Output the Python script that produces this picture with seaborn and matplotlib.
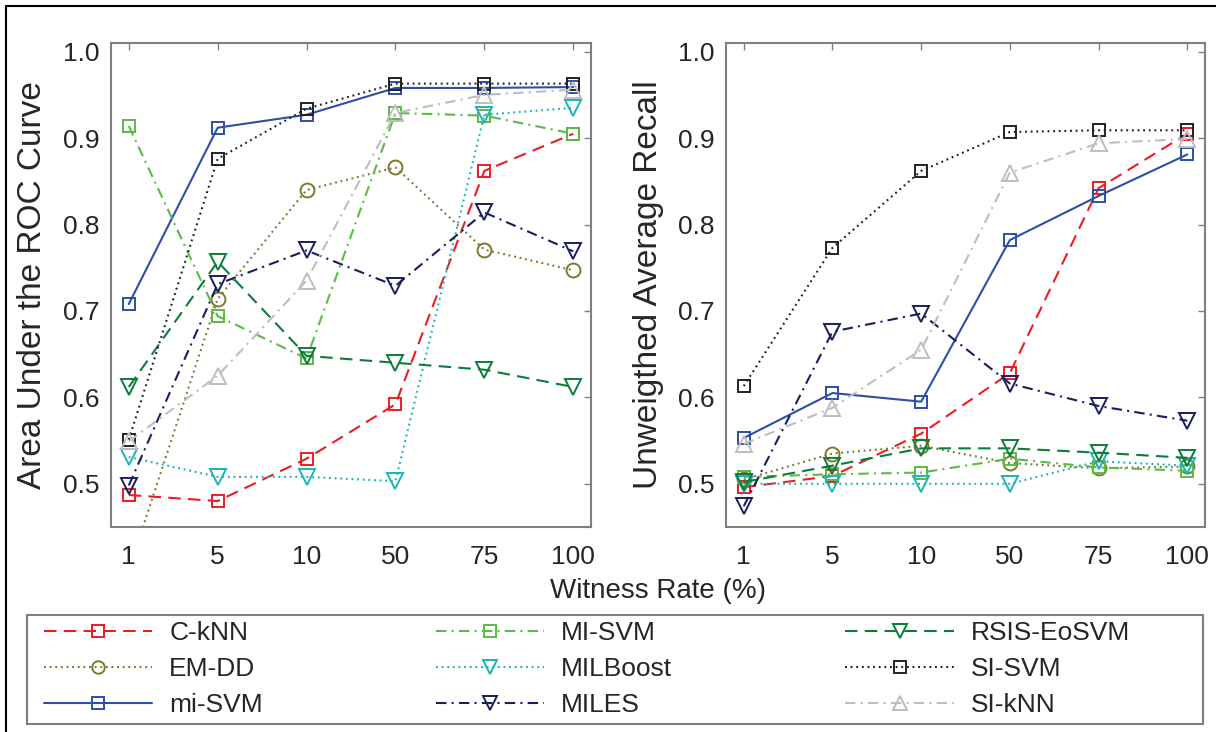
import numpy as np
import pandas as pd
import matplotlib
matplotlib.use("Agg")
import matplotlib.pyplot as plt
from matplotlib.lines import Line2D
from matplotlib.patches import Rectangle
import seaborn as sns

# Witness rate categories on the shared x axis
witness_rates = ["1", "5", "10", "50", "75", "100"]
methods = ["C-kNN", "EM-DD", "mi-SVM", "MI-SVM", "MILBoost", "MILES",
           "RSIS-EoSVM", "SI-SVM", "SI-kNN"]

# Area under the ROC curve
auc_cknn = [0.487, 0.480, 0.529, 0.592, 0.862, 0.905]
auc_emdd = [0.400, 0.714, 0.840, 0.866, 0.771, 0.747]
auc_mi_svm = [0.708, 0.912, 0.927, 0.958, 0.958, 0.959]
auc_MI_SVM = [0.914, 0.694, 0.645, 0.929, 0.926, 0.905]
auc_milboost = [0.531, 0.508, 0.508, 0.503, 0.927, 0.935]
auc_miles = [0.498, 0.731, 0.770, 0.729, 0.814, 0.769]
auc_rsis = [0.612, 0.757, 0.648, 0.640, 0.632, 0.612]
auc_si_svm = [0.551, 0.876, 0.934, 0.963, 0.963, 0.963]
auc_si_knn = [0.549, 0.625, 0.735, 0.929, 0.950, 0.956]

# Unweighted average recall
uar_cknn = [0.496, 0.509, 0.558, 0.628, 0.842, 0.905]
uar_emdd = [0.505, 0.535, 0.544, 0.524, 0.518, 0.520]
uar_mi_svm = [0.553, 0.605, 0.595, 0.782, 0.833, 0.881]
uar_MI_SVM = [0.508, 0.511, 0.513, 0.529, 0.519, 0.515]
uar_milboost = [0.500, 0.500, 0.500, 0.500, 0.526, 0.521]
uar_miles = [0.474, 0.676, 0.697, 0.616, 0.590, 0.573]
uar_rsis = [0.502, 0.521, 0.541, 0.541, 0.536, 0.530]
uar_si_svm = [0.613, 0.773, 0.862, 0.907, 0.909, 0.909]
uar_si_knn = [0.546, 0.588, 0.655, 0.860, 0.894, 0.899]

auc_values = [auc_cknn, auc_emdd, auc_mi_svm, auc_MI_SVM, auc_milboost,
              auc_miles, auc_rsis, auc_si_svm, auc_si_knn]
uar_values = [uar_cknn, uar_emdd, uar_mi_svm, uar_MI_SVM, uar_milboost,
              uar_miles, uar_rsis, uar_si_svm, uar_si_knn]

# Per-method styling
colors = ["#ED1C24", "#7B7A2E", "#2E4FA6", "#5BBB46", "#1BB5B8",
          "#191E5C", "#0B7D3B", "#222222", "#BEBEBE"]
markers = ["s", "o", "s", "s", "v", "v", "v", "s", "^"]
dashed = (6, 3.5)
dotted = (0.9, 1.8)
dashdot = (5, 2.5, 1, 2.5)
solid = ()
dash_styles = [dashed, dotted, solid, dashdot, dotted, dashdot, dashed, dotted, dashdot]
marker_sizes = [9, 10, 9, 9, 11, 11, 11, 9, 11]

sns.set_theme(style="white")
plt.rcParams["font.family"] = ["Liberation Sans", "DejaVu Sans"]

spine_color = "#7F7F7F"
text_color = "#262626"

fig = plt.figure(figsize=(12.16, 7.32), dpi=100)
W, H = 1216, 732
ax1 = fig.add_axes([111 / W, 1 - 527 / H, 480 / W, 484 / H])
ax2 = fig.add_axes([726 / W, 1 - 527 / H, 479 / W, 484 / H])

positions = np.arange(len(witness_rates))


def make_frame(values):
    rows = []
    for m, vals in zip(methods, values):
        for p, v in zip(positions, vals):
            rows.append({"method": m, "pos": p, "value": v})
    return pd.DataFrame(rows)


def line_style(i):
    return "-" if len(dash_styles[i]) == 0 else (0, dash_styles[i])


def draw_panel(ax, values):
    df = make_frame(values)
    for i, m in enumerate(methods):
        sub = df[df["method"] == m]
        sns.lineplot(data=sub, x="pos", y="value", ax=ax, color=colors[i],
                     linestyle=line_style(i), linewidth=1.5, marker=markers[i],
                     markersize=marker_sizes[i], markerfacecolor="none",
                     markeredgecolor=colors[i], markeredgewidth=1.4,
                     estimator=None, sort=False, legend=False)
    ax.set_xlim(-0.2, 5.2)
    ax.set_ylim(0.45, 1.01)
    ax.set_xticks(positions)
    ax.set_xticklabels(witness_rates)
    yt = np.arange(0.5, 1.01, 0.1)
    ax.set_yticks(yt)
    ax.set_yticklabels([f"{t:.1f}" for t in yt])
    ax.tick_params(axis="both", direction="in", length=5, width=1,
                   color=spine_color, labelcolor=text_color, labelsize=19,
                   top=True, right=True)
    ax.tick_params(axis="x", pad=13)
    ax.tick_params(axis="y", pad=8)
    for s in ax.spines.values():
        s.set_color(spine_color)
        s.set_linewidth(1.5)
        s.set_visible(True)
    ax.set_xlabel("")
    ax.set_ylabel("")
    ax.grid(False)
    ax.set_facecolor("white")


draw_panel(ax1, auc_values)
draw_panel(ax2, uar_values)

# Axis titles
fig.text(33 / W, 1 - 285 / H, "Area Under the ROC Curve", rotation=90,
         ha="center", va="center", fontsize=24, color=text_color)
fig.text(648 / W, 1 - 285 / H, "Unweigthed Average Recall", rotation=90,
         ha="center", va="center", fontsize=24, color=text_color)
fig.text((111 + 1205) / 2 / W, 1 - 591 / H, "Witness Rate (%)", ha="center",
         va="center", fontsize=20, color=text_color)

# Legend spanning both panels
handles = []
for i, m in enumerate(methods):
    handles.append(Line2D([], [], color=colors[i], linestyle=line_style(i),
                          linewidth=1.5, marker=markers[i],
                          markersize=marker_sizes[i] - 1,
                          markerfacecolor="none", markeredgecolor=colors[i],
                          markeredgewidth=1.4))
leg = fig.legend(handles, methods, loc="upper left",
                 bbox_to_anchor=(44 / W, 1 - 621 / H, (1130 - 44) / W, 0.0),
                 mode="expand", ncol=3, frameon=False, fontsize=19,
                 handlelength=4.1, handletextpad=0.65, labelspacing=0.46,
                 borderpad=0.0, borderaxespad=0)
for t in leg.get_texts():
    t.set_color(text_color)
fig.add_artist(Rectangle((27 / W, 1 - 724 / H), (1203 - 27) / W, 109 / H,
                         transform=fig.transFigure, fill=False,
                         edgecolor=spine_color, linewidth=1.5))

# Outer frame lines along the top and left edges
fig.add_artist(Line2D([6 / W, 1], [1 - 6 / H, 1 - 6 / H], color="black",
                      linewidth=1.5, transform=fig.transFigure))
fig.add_artist(Line2D([6 / W, 6 / W], [0, 1 - 6 / H], color="black",
                      linewidth=1.5, transform=fig.transFigure))

fig.savefig("out.png", dpi=100, facecolor="white")
